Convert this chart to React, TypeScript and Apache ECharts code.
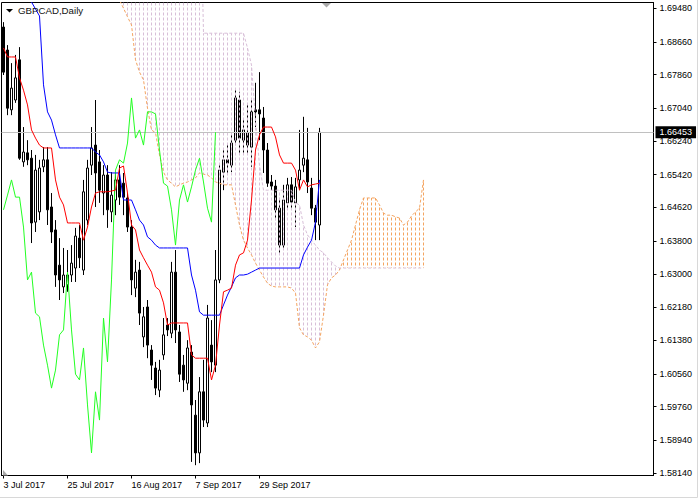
import React, { useEffect, useRef } from 'react';
import * as echarts from 'echarts';

const FONT = '"Liberation Sans", Arial, sans-serif';

const symbolLabel = 'GBPCAD,Daily';
const xTickLabels = ['3 Jul 2017', '25 Jul 2017', '16 Aug 2017', '7 Sep 2017', '29 Sep 2017'];
const yTickValues = [1.5814, 1.5894, 1.5976, 1.6056, 1.6138, 1.6218, 1.63, 1.638, 1.6462, 1.6542, 1.6624, 1.6704, 1.6786, 1.6866, 1.6948];
const lastPrice = 1.66453;
const TOTAL_SLOTS = 163;
const TICK_STEP = 16;
const SHIFT = 26;
const Y_MIN = 1.58078;
const Y_MAX = 1.69619;

const opens = [
  1.6902, 1.6846, 1.6700, 1.6724, 1.6822, 1.6573, 1.6595, 1.6582, 1.6426, 1.6451,
  1.6561, 1.6578, 1.6463, 1.6407, 1.6321, 1.6268, 1.6273, 1.6297, 1.6314, 1.6387,
  1.6309, 1.6431, 1.6565, 1.6614, 1.6573, 1.6497, 1.6541, 1.6451, 1.6480, 1.6529,
  1.6521, 1.6485, 1.6414, 1.6265, 1.6309, 1.6146, 1.6219, 1.6114, 1.6070, 1.6016,
  1.6102, 1.6175, 1.6155, 1.6304, 1.6158, 1.6077, 1.6033, 1.6109, 1.5955, 1.5863,
  1.6012, 1.5936, 1.6126, 1.6077, 1.6285, 1.6548, 1.6578, 1.6565, 1.6626, 1.6724,
  1.6626, 1.6644, 1.6609, 1.6700, 1.6700, 1.6680, 1.6602, 1.6524, 1.6514, 1.6460,
  1.6370, 1.6473, 1.6517, 1.6473, 1.6529, 1.6565, 1.6578, 1.6509, 1.6460, 1.6419,
];
const highs = [
  1.6914, 1.6858, 1.6814, 1.6834, 1.6853, 1.6658, 1.6626, 1.6602, 1.6590, 1.6578,
  1.6609, 1.6609, 1.6497, 1.6431, 1.6387, 1.6363, 1.6358, 1.6370, 1.6412, 1.6419,
  1.6529, 1.6578, 1.6658, 1.6724, 1.6602, 1.6565, 1.6565, 1.6548, 1.6546, 1.6565,
  1.6546, 1.6497, 1.6431, 1.6334, 1.6329, 1.6219, 1.6236, 1.6126, 1.6085, 1.6090,
  1.6192, 1.6192, 1.6329, 1.6358, 1.6175, 1.6102, 1.6138, 1.6126, 1.5992, 1.6048,
  1.6090, 1.6224, 1.6187, 1.6358, 1.6565, 1.6602, 1.6614, 1.6639, 1.6748, 1.6744,
  1.6680, 1.6712, 1.6724, 1.6766, 1.6792, 1.6707, 1.6619, 1.6541, 1.6529, 1.6485,
  1.6517, 1.6534, 1.6536, 1.6534, 1.6651, 1.6683, 1.6656, 1.6534, 1.6468, 1.6656,
];
const lows = [
  1.6785, 1.6687, 1.6687, 1.6717, 1.6578, 1.6561, 1.6565, 1.6375, 1.6402, 1.6431,
  1.6548, 1.6419, 1.6375, 1.6268, 1.6236, 1.6253, 1.6256, 1.6280, 1.6280, 1.6314,
  1.6297, 1.6419, 1.6541, 1.6463, 1.6473, 1.6443, 1.6412, 1.6426, 1.6443, 1.6468,
  1.6443, 1.6402, 1.6248, 1.6243, 1.6175, 1.6121, 1.6094, 1.6041, 1.6004, 1.5999,
  1.6090, 1.6148, 1.6143, 1.6131, 1.6036, 1.6012, 1.6016, 1.5841, 1.5833, 1.5838,
  1.5926, 1.5926, 1.6060, 1.6060, 1.6277, 1.6504, 1.6541, 1.6548, 1.6614, 1.6590,
  1.6595, 1.6590, 1.6561, 1.6658, 1.6626, 1.6546, 1.6512, 1.6504, 1.6431, 1.6351,
  1.6358, 1.6456, 1.6460, 1.6414, 1.6504, 1.6548, 1.6497, 1.6443, 1.6382, 1.6382,
];
const closes = [
  1.6792, 1.6704, 1.6753, 1.6778, 1.6582, 1.6597, 1.6578, 1.6424, 1.6553, 1.6558,
  1.6578, 1.6456, 1.6402, 1.6297, 1.6285, 1.6297, 1.6297, 1.6326, 1.6392, 1.6339,
  1.6500, 1.6558, 1.6607, 1.6546, 1.6504, 1.6541, 1.6456, 1.6492, 1.6529, 1.6487,
  1.6487, 1.6414, 1.6285, 1.6304, 1.6204, 1.6195, 1.6126, 1.6077, 1.6021, 1.6065,
  1.6151, 1.6163, 1.6304, 1.6163, 1.6055, 1.6041, 1.6119, 1.5980, 1.5863, 1.6012,
  1.5943, 1.6192, 1.6085, 1.6285, 1.6553, 1.6578, 1.6570, 1.6619, 1.6729, 1.6631,
  1.6651, 1.6614, 1.6695, 1.6695, 1.6690, 1.6602, 1.6521, 1.6514, 1.6456, 1.6370,
  1.6480, 1.6517, 1.6475, 1.6512, 1.6553, 1.6582, 1.6524, 1.6460, 1.6426, 1.66453,
];

const tenkan = [
  1.6851, 1.6829, 1.6829, 1.6829, 1.6778, 1.6748, 1.6712, 1.6651, 1.6631, 1.6614,
  1.6607, 1.6607, 1.6607, 1.6529, 1.6487, 1.6468, 1.6424, 1.6424, 1.6424, 1.6424,
  1.6382, 1.6414, 1.6463, 1.6497, 1.6500, 1.6500, 1.6500, 1.6502, 1.6504, 1.6558,
  1.6563, 1.6497, 1.6419, 1.6407, 1.6358, 1.6339, 1.6321, 1.6304, 1.6268, 1.6260,
  1.6229, 1.6175, 1.6180, 1.6180, 1.6180, 1.6180, 1.6180, 1.6102, 1.6094, 1.6094,
  1.6094, 1.6094, 1.6041, 1.6077, 1.6175, 1.6256, 1.6260, 1.6265, 1.6321, 1.6346,
  1.6351, 1.6382, 1.6480, 1.6602, 1.6639, 1.6658, 1.6658, 1.6658, 1.6634, 1.6590,
  1.6570, 1.6570, 1.6570, 1.6553, 1.6504, 1.6529, 1.6512, 1.6517, 1.6519, 1.6521,
];
const kijun = [
  1.7107, 1.7107, 1.7107, 1.7107, 1.7107, 1.7107, 1.7107, 1.6963, 1.6946, 1.6929,
  1.6761, 1.6695, 1.6675, 1.6639, 1.6607, 1.6607, 1.6607, 1.6607, 1.6607, 1.6607,
  1.6607, 1.6607, 1.6607, 1.6597, 1.6590, 1.6573, 1.6548, 1.6546, 1.6546, 1.6546,
  1.6480, 1.6480, 1.6480, 1.6456, 1.6431, 1.6419, 1.6390, 1.6382, 1.6370, 1.6363,
  1.6363, 1.6363, 1.6363, 1.6363, 1.6363, 1.6363, 1.6363, 1.6297, 1.6260, 1.6207,
  1.6199, 1.6199, 1.6199, 1.6199, 1.6199, 1.6224, 1.6248, 1.6268, 1.6290, 1.6297,
  1.6297, 1.6299, 1.6304, 1.6309, 1.6314, 1.6314, 1.6314, 1.6314, 1.6314, 1.6314,
  1.6314, 1.6314, 1.6314, 1.6314, 1.6314, 1.6346, 1.6365, 1.6382, 1.6426, 1.6529,
];
// Senkou spans, already displaced 26 bars forward (index = displayed bar)
const senkouA = [
  1.7066, 1.7066, 1.7066, 1.7066, 1.7066, 1.7066, 1.7066, 1.7066, 1.7066, 1.7066,
  1.7066, 1.7066, 1.7066, 1.7066, 1.7066, 1.7066, 1.7066, 1.7066, 1.7066, 1.7066,
  1.7066, 1.7066, 1.7066, 1.7066, 1.7066, 1.7066, 1.7066, 1.7066, 1.6997,
  1.6968, 1.6948, 1.6927, 1.6907, 1.6822, 1.6792, 1.6773, 1.6704, 1.6651, 1.6644,
  1.6590, 1.6548, 1.6529, 1.6521, 1.6512, 1.6517, 1.6521, 1.6524, 1.6529, 1.6534,
  1.6546, 1.6543, 1.6541, 1.6534, 1.6524, 1.6521, 1.6517, 1.6517, 1.6517, 1.6468,
  1.6419, 1.6382, 1.6363, 1.6346, 1.6326, 1.6309, 1.6292, 1.6277, 1.6270, 1.6268,
  1.6268, 1.6268, 1.6268, 1.6265, 1.6253, 1.6168, 1.6151, 1.6146, 1.6138, 1.6119,
  1.6134, 1.6199, 1.6273, 1.6290, 1.6297, 1.6309, 1.6334, 1.6358, 1.6382, 1.6419,
  1.6456, 1.6485, 1.6485, 1.6485, 1.6485, 1.6468, 1.6448, 1.6443, 1.6443, 1.6439,
  1.6436, 1.6419, 1.6426, 1.6441, 1.6451, 1.6460, 1.6529,
];
const senkouB = [
  1.7334, 1.7334, 1.7334, 1.7334, 1.7334, 1.7334, 1.7334, 1.7334, 1.7334, 1.7334,
  1.7334, 1.7334, 1.7334, 1.7334, 1.7334, 1.7334, 1.7334, 1.7334, 1.7334, 1.7334,
  1.7334, 1.7334, 1.7334, 1.7334, 1.7334, 1.7334, 1.7334, 1.7334, 1.7334, 1.7334,
  1.7334, 1.7334, 1.7334, 1.7334, 1.7334, 1.7334, 1.7334, 1.7334, 1.7334, 1.7334,
  1.7334, 1.7334, 1.7334, 1.7334, 1.7334, 1.7334, 1.7334, 1.7334, 1.7334, 1.7334,
  1.6887, 1.6887, 1.6887, 1.6887, 1.6887, 1.6887, 1.6887, 1.6887, 1.6887, 1.6887,
  1.6887, 1.6851, 1.6809, 1.6675, 1.6565, 1.6504, 1.6504, 1.6504, 1.6504, 1.6504,
  1.6504, 1.6504, 1.6504, 1.6473, 1.6468, 1.6419, 1.6395, 1.6382, 1.6370, 1.6358,
  1.6351, 1.6339, 1.6329, 1.6319, 1.6314, 1.6314, 1.6314, 1.6314, 1.6314, 1.6314,
  1.6314, 1.6314, 1.6314, 1.6314, 1.6314, 1.6314, 1.6314, 1.6314, 1.6314, 1.6314,
  1.6314, 1.6314, 1.6314, 1.6314, 1.6314, 1.6314,
];

const RED = '#FF0000';
const BLUE = '#0000FF';
const LIME = '#22FF22';
const SANDY = '#F4A460';
const THISTLE = '#D8BFD8';

// hatch columns: short dashes (on a common 5px row grid) between span A and span B
const hatchSeries = (data: number[][], color: string) => ({
  type: 'custom',
  z: 3,
  silent: true,
  clip: true,
  data,
  itemStyle: { color },
  encode: { x: 0, y: [1, 2] },
  renderItem: (params: any, api: any) => {
    const i = api.value(0);
    const pa = api.coord([i, api.value(1)]);
    const pb = api.coord([i, api.value(2)]);
    const cs = params.coordSys;
    const top = cs.y;
    const bottom = cs.y + cs.height;
    const x = Math.round(pa[0] - 0.5);
    const y0 = Math.max(Math.min(pa[1], pb[1]), top);
    const y1 = Math.min(Math.max(pa[1], pb[1]), bottom);
    const children: any[] = [];
    if (y1 > y0) {
      let k = Math.floor((y0 - top) / 5);
      while (top + k * 5 < y1 && children.length < 200) {
        const ys = top + k * 5;
        const a = Math.max(ys, y0);
        const b = Math.min(ys + 3, y1);
        if (b > a) {
          children.push({
            type: 'rect',
            shape: { x, y: a, width: 1, height: b - a },
            style: { fill: color },
          });
        }
        k++;
      }
    }
    return { type: 'group', children };
  },
});

export default function App() {
  const ref = useRef<HTMLDivElement>(null);
  useEffect(() => {
    document.body.style.margin = '0';
    const chart = echarts.init(ref.current!, null, { renderer: 'svg' });
    const categories = Array.from({ length: TOTAL_SLOTS }, (_, i) => String(i));
    const candleData = opens.map((o, i) => [o, closes[i], lows[i], highs[i]]);
    const chikou = closes.slice(SHIFT);
    const cloudAll = senkouA.map((a, i) => [i, a, senkouB[i]]);
    const cloudUp = cloudAll.filter((d) => d[1] > d[2]);
    const cloudDown = cloudAll.filter((d) => d[1] <= d[2]);
    const showTick = (index: number) => index % TICK_STEP === 0 && index < closes.length;

    const option: any = {
      animation: false,
      backgroundColor: '#ffffff',
      grid: {
        left: 1.5, right: 46.5, top: 2.5, bottom: 23.5,
        show: true, borderColor: '#000', borderWidth: 1, backgroundColor: '#fff',
      },
      xAxis: {
        type: 'category',
        data: categories,
        boundaryGap: true,
        axisLine: { show: true, lineStyle: { color: '#000', width: 1 } },
        axisTick: { show: true, alignWithLabel: true, interval: showTick, length: 3, lineStyle: { color: '#000' } },
        axisLabel: {
          show: true, interval: showTick, align: 'left', margin: 5,
          color: '#000', fontSize: 9, fontFamily: FONT,
          formatter: (_v: string, index: number) => xTickLabels[index / TICK_STEP] ?? '',
        },
        splitLine: { show: false },
      },
      yAxis: {
        type: 'value',
        position: 'right',
        min: Y_MIN,
        max: Y_MAX,
        axisLine: { show: true, lineStyle: { color: '#000', width: 1 } },
        axisTick: { show: true, length: 3, customValues: yTickValues, lineStyle: { color: '#000' } },
        axisLabel: {
          show: true, customValues: yTickValues, margin: 6,
          color: '#000', fontSize: 9, fontFamily: FONT,
          formatter: (v: number) => v.toFixed(5),
        },
        splitLine: { show: false },
      },
      series: [
        {
          type: 'candlestick',
          data: candleData,
          barWidth: 3,
          z: 2,
          silent: true,
          itemStyle: { color: '#ffffff', color0: '#000000', borderColor: '#000000', borderColor0: '#000000', borderWidth: 1 },
        },
        hatchSeries(cloudDown, THISTLE),
        hatchSeries(cloudUp, SANDY),
        {
          type: 'line', data: senkouA, symbol: 'none', z: 4, silent: true,
          lineStyle: { color: SANDY, width: 1, type: [3, 2] },
        },
        {
          type: 'line', data: senkouB, symbol: 'none', z: 4, silent: true,
          lineStyle: { color: THISTLE, width: 1, type: [3, 2] },
        },
        {
          type: 'line', data: chikou, symbol: 'none', z: 5, silent: true,
          lineStyle: { color: LIME, width: 1 },
        },
        {
          type: 'line', data: kijun, symbol: 'none', z: 5, silent: true,
          lineStyle: { color: BLUE, width: 1 },
        },
        {
          type: 'line', data: tenkan, symbol: 'none', z: 5, silent: true,
          lineStyle: { color: RED, width: 1 },
          markLine: {
            silent: true,
            precision: 5,
            symbol: ['none', 'none'],
            lineStyle: { color: '#C0C0C0', width: 1, type: 'solid' },
            label: {
              show: true, position: 'end', distance: 2,
              formatter: lastPrice.toFixed(5),
              color: '#fff', backgroundColor: '#000',
              padding: [2, 4, 1, 4], fontSize: 9, fontFamily: FONT,
            },
            data: [{ yAxis: lastPrice }],
          },
        },
      ],
      graphic: [
        { type: 'polygon', silent: true, shape: { points: [[6, 9], [13, 9], [9.5, 12.5]] }, style: { fill: '#000' }, z: 10 },
        { type: 'text', silent: true, x: 18, y: 5, style: { text: symbolLabel, font: `9.7px ${FONT}`, fill: '#111' }, z: 10 },
        { type: 'polygon', silent: true, shape: { points: [[322, 3], [331, 3], [326.5, 7.5]] }, style: { fill: '#A9A9A9' }, z: 10 },
        { type: 'polygon', silent: true, shape: { points: [[3, 470], [3, 475.5], [8, 475.5]] }, style: { fill: '#A9A9A9' }, z: 10 },
        { type: 'line', silent: true, shape: { x1: 0, y1: 497.5, x2: 697.5, y2: 497.5 }, style: { stroke: '#D8D8D8', lineWidth: 1 } },
        { type: 'line', silent: true, shape: { x1: 697.5, y1: 0, x2: 697.5, y2: 497.5 }, style: { stroke: '#D8D8D8', lineWidth: 1 } },
      ],
    };
    chart.setOption(option);
    return () => chart.dispose();
  }, []);
  return <div ref={ref} style={{ position: 'absolute', left: 0, top: 0, width: 700, height: 499, background: '#fff' }} />;
}
